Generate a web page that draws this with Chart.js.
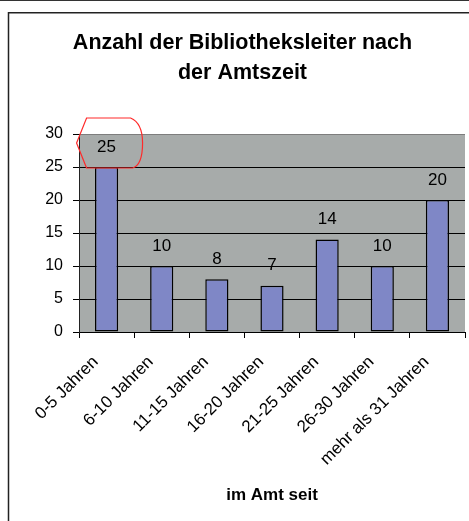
<!DOCTYPE html>
<html>
<head>
<meta charset="utf-8">
<script src="https://cdn.jsdelivr.net/npm/chart.js@4/dist/chart.umd.min.js"></script>
<style>
  html, body { margin: 0; padding: 0; background: #fff; }
  canvas { display: block; }
</style>
</head>
<body>
<canvas id="chartAmtszeit" width="469" height="521"></canvas>
<script>
// Daten
const titleLines = ['Anzahl der Bibliotheksleiter nach', 'der Amtszeit'];
const categories = ['0-5 Jahren', '6-10 Jahren', '11-15 Jahren', '16-20 Jahren', '21-25 Jahren', '26-30 Jahren', 'mehr als 31 Jahren'];
const counts = [25, 10, 8, 7, 14, 10, 20];
const yTicks = [0, 5, 10, 15, 20, 25, 30];
const xAxisTitle = 'im Amt seit';

const FONT = 'Arial, "Liberation Sans", sans-serif';
Chart.defaults.font.family = FONT;
Chart.defaults.color = '#000';

// Rahmen + grauer Plotbereich
const backgroundPlugin = {
  id: 'background',
  beforeDraw(chart) {
    const ctx = chart.ctx;
    const a = chart.chartArea;
    ctx.save();
    ctx.fillStyle = '#fff';
    ctx.fillRect(0, 0, chart.width, chart.height);
    ctx.strokeStyle = '#333';
    ctx.lineWidth = 1;
    ctx.beginPath();
    ctx.moveTo(0, 0.5);
    ctx.lineTo(chart.width, 0.5);
    ctx.stroke();
    ctx.strokeStyle = '#222';
    ctx.lineWidth = 1.5;
    ctx.strokeRect(8.5, 12.75, chart.width + 10, chart.height + 10);
    ctx.fillStyle = '#a7abaa';
    ctx.fillRect(a.left, a.top, a.right - a.left, a.bottom - a.top);
    ctx.restore();
  }
};

// Werte über den Balken + rote Markierung um die 25
const labelPlugin = {
  id: 'barLabels',
  afterDatasetsDraw(chart) {
    const ctx = chart.ctx;
    const meta = chart.getDatasetMeta(0);
    ctx.save();
    ctx.font = '17px ' + FONT;
    ctx.fillStyle = '#000';
    ctx.textAlign = 'center';
    ctx.textBaseline = 'middle';
    meta.data.forEach((bar, i) => {
      ctx.fillText(String(counts[i]), bar.x, bar.y - 20);
    });

    const b = meta.data[0];
    ctx.strokeStyle = '#ff2a2a';
    ctx.lineWidth = 1.2;
    ctx.beginPath();
    ctx.moveTo(b.x - 20, b.y + 1);
    ctx.lineTo(b.x - 30, b.y - 24);
    ctx.lineTo(b.x - 20, b.y - 49);
    ctx.lineTo(b.x + 24, b.y - 49);
    ctx.quadraticCurveTo(b.x + 36, b.y - 44, b.x + 36, b.y - 24);
    ctx.quadraticCurveTo(b.x + 36, b.y - 2, b.x + 26, b.y + 1);
    ctx.closePath();
    ctx.stroke();
    ctx.restore();
  }
};

new Chart(document.getElementById('chartAmtszeit').getContext('2d'), {
  type: 'bar',
  data: {
    labels: categories,
    datasets: [{
      data: counts,
      backgroundColor: '#7f87c6',
      borderColor: '#000',
      borderWidth: 1.5,
      borderSkipped: false,
      barPercentage: 0.42,
      categoryPercentage: 1
    }]
  },
  options: {
    responsive: false,
    animation: false,
    layout: { padding: { top: 13, right: 4, bottom: 0, left: 20 } },
    plugins: {
      legend: { display: false },
      tooltip: { enabled: false },
      title: {
        display: true,
        text: titleLines,
        color: '#000',
        font: { size: 21.5, weight: 'bold', lineHeight: 30 / 21.5 },
        padding: { top: 15, bottom: 46 }
      }
    },
    scales: {
      x: {
        grid: {
          display: true,
          drawOnChartArea: false,
          drawTicks: true,
          tickLength: 6,
          tickColor: '#000',
          offset: true
        },
        border: { display: true, color: '#000', width: 1 },
        ticks: {
          autoSkip: false,
          minRotation: 45,
          maxRotation: 45,
          padding: 14,
          labelOffset: -11,
          font: { size: 17 },
          color: '#000'
        },
        title: {
          display: true,
          text: xAxisTitle,
          color: '#000',
          font: { size: 17, weight: 'bold' },
          padding: { top: 0, bottom: 15 }
        },
        afterFit(scale) { scale.height = 189; }
      },
      y: {
        min: 0,
        max: 30,
        afterBuildTicks(scale) { scale.ticks = yTicks.map(v => ({ value: v })); },
        grid: {
          color: ctx => (ctx.tick && ctx.tick.value === 30) ? '#7d7d7d' : '#000',
          tickColor: '#000',
          tickLength: 6,
          lineWidth: 1
        },
        border: { display: true, color: '#222', width: 1 },
        ticks: {
          padding: 10,
          font: { size: 16 },
          color: '#000'
        },
        afterFit(scale) { scale.width = 59; }
      }
    }
  },
  plugins: [backgroundPlugin, labelPlugin]
});
</script>
</body>
</html>
